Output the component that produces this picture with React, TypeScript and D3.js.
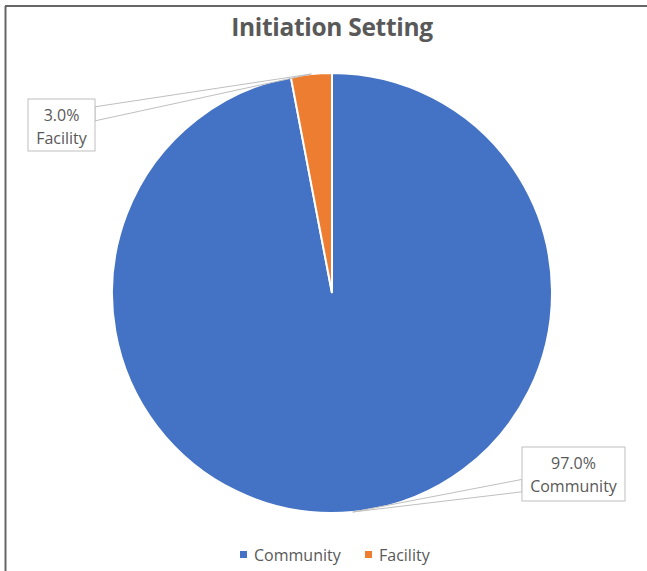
import React from "react";
import * as d3 from "d3";

const categories = ["Community", "Facility"];
const values = [97.0, 3.0];
const colors = ["#4472C4", "#ED7D31"];
const title = "Initiation Setting";

const W = 647;
const H = 571;
const cx = 332;
const cy = 293;
const R = 220;
const FONT = "'Open Sans', 'Noto Sans', sans-serif";

// label box layout (x, y, w, h) per category
const labelBoxes = [
  { x: 522, y: 447, w: 103, h: 54 },
  { x: 28, y: 99, w: 67, h: 52 },
];

export default function App() {
  const total = d3.sum(values);
  const pie = d3
    .pie<number>()
    .sort(null)
    .value((d) => d)
    .startAngle(0)
    .endAngle(2 * Math.PI);
  const arcs = pie(values);
  const arcGen = d3.arc<d3.PieArcDatum<number>>().innerRadius(0).outerRadius(R);
  const fmt = d3.format(".1%");

  return (
    <svg
      width={W}
      height={H}
      style={{ position: "absolute", left: 0, top: 0, background: "#fff" }}
    >
      <rect x={0} y={0} width={W} height={H} fill="#fff" />
      {/* frame */}
      <line x1={5} y1={6} x2={W} y2={6} stroke="#333" strokeWidth={1.5} />
      <line x1={5.5} y1={6} x2={5.5} y2={H} stroke="#666" strokeWidth={2} />

      <text
        x={cx}
        y={36}
        textAnchor="middle"
        fontFamily={FONT}
        fontWeight={700}
        fontSize={24.5}
        fill="#595959"
        letterSpacing={-0.3}
      >
        {title}
      </text>

      <g transform={`translate(${cx},${cy})`}>
        {arcs.map((a, i) => (
          <path
            key={i}
            d={arcGen(a) || ""}
            fill={colors[i]}
            stroke="#fff"
            strokeWidth={2}
          />
        ))}
      </g>

      {arcs.map((a, i) => {
        const mid = (a.startAngle + a.endAngle) / 2;
        const tx = cx + R * Math.sin(mid);
        const ty = cy - R * Math.cos(mid);
        const b = labelBoxes[i];
        const onLeft = tx > b.x + b.w;
        const ex = onLeft ? b.x + b.w : b.x;
        const y1 = b.y + b.h * 0.15;
        const y2 = b.y + b.h * 0.42;
        const pct = fmt(values[i] / total);
        return (
          <g key={`l${i}`}>
            <polygon
              points={`${ex},${i === 0 ? b.y + b.h * 0.6 : y1} ${tx},${ty} ${ex},${i === 0 ? b.y + b.h * 0.83 : y2}`}
              fill="#fff"
              stroke="#bfbfbf"
              strokeWidth={1}
            />
            <rect
              x={b.x}
              y={b.y}
              width={b.w}
              height={b.h}
              fill="#fff"
              stroke="#bfbfbf"
              strokeWidth={1}
            />
            <text
              x={b.x + b.w / 2}
              y={b.y + 22}
              textAnchor="middle"
              fontFamily={FONT}
              fontSize={16}
              fill="#595959"
            >
              {pct}
            </text>
            <text
              x={b.x + b.w / 2}
              y={b.y + 45}
              textAnchor="middle"
              fontFamily={FONT}
              fontSize={16}
              fill="#595959"
            >
              {categories[i]}
            </text>
          </g>
        );
      })}

      {/* legend */}
      {categories.map((c, i) => {
        const lx = [240, 365][i];
        return (
          <g key={`lg${i}`}>
            <rect x={lx} y={551} width={7} height={7} fill={colors[i]} />
            <text
              x={lx + 14}
              y={560.5}
              fontFamily={FONT}
              fontSize={16}
              fill="#595959"
            >
              {c}
            </text>
          </g>
        );
      })}
    </svg>
  );
}
